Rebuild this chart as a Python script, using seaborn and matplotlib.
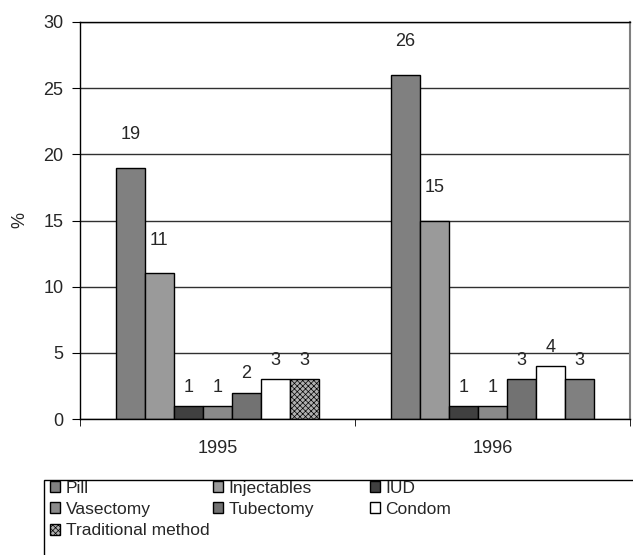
import numpy as np
import pandas as pd
import seaborn as sns
import matplotlib
matplotlib.use('Agg')
from matplotlib import pyplot as plt
from matplotlib.patches import Rectangle

years = ['1995', '1996']
methods = ['Pill', 'Injectables', 'IUD', 'Vasectomy', 'Tubectomy', 'Condom', 'Traditional method']
values_1995 = [19, 11, 1, 1, 2, 3, 3]
values_1996 = [26, 15, 1, 1, 3, 4, 3]

colors = ['#808080', '#9a9a9a', '#404040', '#8a8a8a', '#727272', '#ffffff', '#b0b0b0']

sns.set_style('white')
plt.rcParams['font.family'] = ['Liberation Sans', 'DejaVu Sans']
plt.rcParams['hatch.linewidth'] = 0.5

df = pd.DataFrame({'year': np.repeat(years, len(methods)),
                   'method': methods * 2,
                   'value': values_1995 + values_1996})

fig = plt.figure(figsize=(6.33, 5.55), dpi=100)
ax = fig.add_axes([80 / 633, 136 / 555, 550 / 633, 397 / 555])

sns.barplot(data=df, x='year', y='value', hue='method', order=years, hue_order=methods,
            palette=colors, saturation=1, width=0.74, edgecolor='black', linewidth=1,
            errorbar=None, legend=False, ax=ax)

# traditional method: checkered in 1995, plain grey in 1996
for bar in ax.containers[6]:
    bar.set_hatch('xxxxxx')
ax.containers[6][1].set_hatch(None)
ax.containers[6][1].set_facecolor('#808080')

# value labels
for cont in ax.containers:
    for bar in cont:
        v = bar.get_height()
        off = 24 if v > 5 else 13.5
        ax.annotate(f'{v:.0f}', (bar.get_x() + bar.get_width() / 2, v),
                    xytext=(0, off), textcoords='offset points',
                    ha='center', va='center', fontsize=13)

ax.set_ylim(0, 30)
ax.set_yticks(range(0, 31, 5))
ax.yaxis.grid(True, color='#303030', lw=1)
ax.set_axisbelow(True)
ax.set_ylabel('%', fontsize=13, labelpad=11)
ax.set_xlabel('')

ax.set_xticks([0, 1])
ax.set_xticks([-0.5, 0.5, 1.5], minor=True)
ax.tick_params(axis='x', which='major', length=0, pad=15, labelsize=13)
ax.tick_params(axis='x', which='minor', bottom=True, length=5, color='black')
ax.tick_params(axis='y', left=True, length=6, color='black', pad=6, labelsize=13)

for s in ['left', 'bottom', 'top']:
    ax.spines[s].set_color('black')
    ax.spines[s].set_linewidth(1)
ax.spines['right'].set_color('#808080')
ax.spines['right'].set_linewidth(1.5)

# legend laid out in three columns, boxed
handles = [c[0] for c in ax.containers]
cols = [[0, 3, 6], [1, 4], [2, 5]]
col_x = [50, 213, 370]
for idx, x in zip(cols, col_x):
    fig.legend([handles[i] for i in idx], [methods[i] for i in idx],
               loc='upper left', bbox_to_anchor=(x / 633, 1 - 481 / 555),
               frameon=False, fontsize=12.5, handlelength=0.6, handleheight=0.6,
               handletextpad=0.3, labelspacing=0.35, borderpad=0, borderaxespad=0)

fig.add_artist(Rectangle((44 / 633, -0.02), 1.0, 75 / 555 + 0.02, transform=fig.transFigure,
                         fill=False, edgecolor='black', lw=1, clip_on=False))

fig.savefig('out.png', dpi=100)
